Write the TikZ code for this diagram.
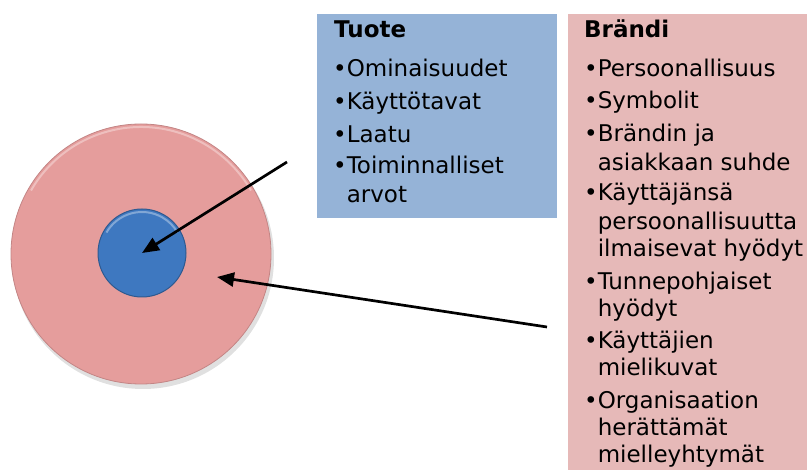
\documentclass[tikz,border=0pt]{standalone}
\usepackage{fontspec}
\setmainfont{DejaVu Sans}
\usepackage{tikz}
\usetikzlibrary{arrows.meta}

\definecolor{tuotesin}{RGB}{149,179,215}
\definecolor{brandipun}{RGB}{230,185,184}
\definecolor{ympyrapun}{RGB}{229,157,156}
\definecolor{ydinsin}{RGB}{62,120,192}

\tikzset{
  rivi/.style={anchor=base west, inner sep=0pt, font=\fontsize{23}{28}\selectfont},
  otsikko/.style={rivi, font=\fontsize{23}{28}\selectfont\bfseries},
  nuoli/.style={-{Triangle[length=17pt,width=14pt]}, line width=2.7pt}
}

\begin{document}
\begin{tikzpicture}[x=1pt,y=-1pt]
  \useasboundingbox (0,0) rectangle (807,470);
  % varjot
  \fill[black, opacity=0.12] (143,258) circle(131);
  \fill[black, opacity=0.15] (143,256) circle(45);
  % ympyrat
  \node[circle, inner sep=0pt, minimum size=260pt, fill=ympyrapun, draw=ympyrapun!85!black, line width=0.8pt] (brandi) at (141,254) {};
  \draw[white, opacity=0.35, line width=2pt] (141,254) ++(210:127) arc(210:330:127);
  \node[circle, inner sep=0pt, minimum size=88pt, fill=ydinsin, draw=ydinsin!75!black, line width=1pt] (ydin) at (142,253) {};
  \draw[white, opacity=0.35, line width=2pt] (142,253) ++(210:41) arc(210:330:41);
  % laatikot
  \filldraw[tuotesin] (317,14) rectangle (556,217);
  \filldraw[brandipun] (568,14) rectangle (807,470);
  % tuote
  \node[otsikko] (tuote) at (334,38) {Tuote};
  \node[rivi] (t1) at (333,77) {•Ominaisuudet};
  \node[rivi] (t2) at (333,110) {•Käyttötavat};
  \node[rivi] (t3) at (333,143) {•Laatu};
  \node[rivi] (t4) at (333,174) {•Toiminnalliset};
  \node[rivi] (t4b) at (346.6,203) {arvot};
  % brandi
  \node[otsikko] (otsbrandi) at (584,38) {Brändi};
  \node[rivi] (b1) at (584,77) {•Persoonallisuus};
  \node[rivi] (b2) at (584,109) {•Symbolit};
  \node[rivi] (b3) at (584,142) {•Brändin ja};
  \node[rivi] (b3b) at (597.6,171) {asiakkaan suhde};
  \node[rivi] (b4) at (584,201) {•Käyttäjänsä};
  \node[rivi] (b4b) at (597.6,230) {persoonallisuutta};
  \node[rivi] (b4c) at (597.6,257) {ilmaisevat hyödyt};
  \node[rivi] (b5) at (584,290) {•Tunnepohjaiset};
  \node[rivi] (b5b) at (597.6,317) {hyödyt};
  \node[rivi] (b6) at (584,349) {•Käyttäjien};
  \node[rivi] (b6b) at (597.6,376) {mielikuvat};
  \node[rivi] (b7) at (584,409) {•Organisaation};
  \node[rivi] (b7b) at (597.6,436) {herättämät};
  \node[rivi] (b7c) at (597.6,463) {mielleyhtymät};
  % nuolet
  \coordinate (alku1) at (287,162);
  \coordinate (alku2) at (547,327);
  \coordinate (kehä) at (217,277);
  \draw[nuoli] (alku1) -- (ydin.center);
  \draw[nuoli] (alku2) -- (kehä);
\end{tikzpicture}
\end{document}
